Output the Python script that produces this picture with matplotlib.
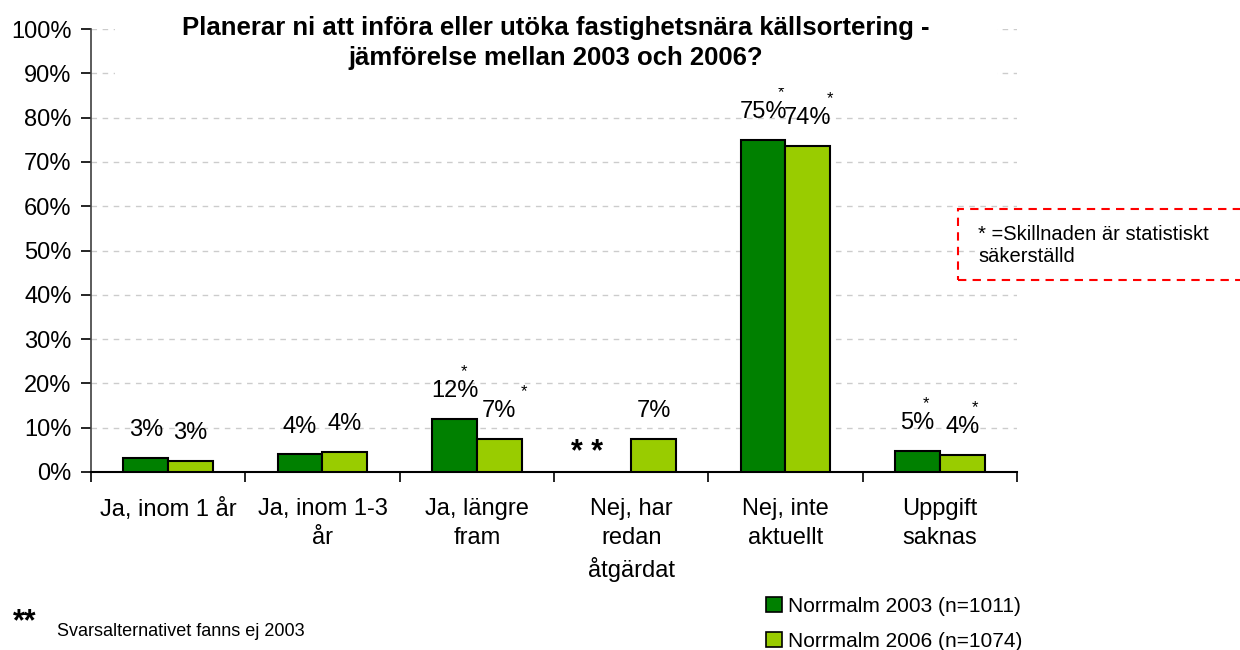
import numpy as np
import matplotlib
matplotlib.use('Agg')
import matplotlib.pyplot as plt
from matplotlib.patches import Patch, Rectangle

plt.rcParams['font.family'] = ['Liberation Sans', 'DejaVu Sans']

# Data
categories = ["Ja, inom 1 år", "Ja, inom 1-3\når", "Ja, längre\nfram",
              "Nej, har\nredan\nåtgärdat", "Nej, inte\naktuellt", "Uppgift\nsaknas"]
values_2003 = [3.2, 4.0, 12.0, np.nan, 75.0, 4.7]
values_2006 = [2.5, 4.5, 7.4, 7.4, 73.6, 3.9]
labels_2003 = ["3%", "4%", "12%", "", "75%", "5%"]
labels_2006 = ["3%", "4%", "7%", "7%", "74%", "4%"]
signif_2003 = [False, False, True, False, True, True]
signif_2006 = [False, False, True, False, True, True]
series_names = ["Norrmalm 2003 (n=1011)", "Norrmalm 2006 (n=1074)"]
yticks = [0, 10, 20, 30, 40, 50, 60, 70, 80, 90, 100]

dark = "#008000"
light = "#99cc00"

# star offsets (points) right of each label centre
star_dx_2003 = [0, 0, 7, 0, 13, 6]
star_dx_2006 = [0, 0, 18, 0, 16, 9]

fig = plt.figure(figsize=(12.4, 6.5), dpi=100)
ax = fig.add_axes([91 / 1240, 1 - 472 / 650, (1017 - 91) / 1240, (472 - 29) / 650])

x = np.arange(len(categories))
w = 0.29
b1 = ax.bar(x - w / 2, values_2003, w, color=dark, edgecolor="black", linewidth=1.5, zorder=3)
b2 = ax.bar(x + w / 2, values_2006, w, color=light, edgecolor="black", linewidth=1.5, zorder=3)

ax.set_xlim(-0.5, len(categories) - 0.5)
ax.set_ylim(0, 100)
ax.set_yticks(yticks)
ax.set_yticklabels([f"{t}%" for t in yticks], fontsize=17)
ax.set_xticks(x)
ax.set_xticklabels(categories, fontsize=17, linespacing=1.4, va="top")
ax.set_xticks(np.arange(-0.5, len(categories)), minor=True)
ax.tick_params(axis="x", which="major", length=0, pad=19)
ax.tick_params(axis="x", which="minor", length=7, width=1.2, direction="out")
ax.tick_params(axis="y", length=7, width=1.2, direction="out", pad=7)

for s in ("top", "right"):
    ax.spines[s].set_visible(False)
ax.spines["left"].set_linewidth(1.2)
ax.spines["left"].set_color("#404040")
ax.spines["bottom"].set_linewidth(1.5)

ax.yaxis.grid(True, color="#cccccc", linestyle=(0, (4, 4)), linewidth=1, zorder=0)
ax.set_axisbelow(True)

# value labels and significance stars
for bars, labs, sig, sdx in ((b1, labels_2003, signif_2003, star_dx_2003),
                             (b2, labels_2006, signif_2006, star_dx_2006)):
    for rect, lab, s, dx in zip(bars, labs, sig, sdx):
        if not lab:
            continue
        cx = rect.get_x() + rect.get_width() / 2
        top = rect.get_height()
        ax.annotate(lab, (cx, top), xytext=(0, 20), textcoords="offset points",
                    ha="center", va="center", fontsize=17)
        if s:
            ax.annotate("*", (cx, top), xytext=(dx, 34), textcoords="offset points",
                        ha="center", va="center", fontsize=12)

# missing 2003 value marker
ax.annotate("* *", (x[3] - w / 2, 0), xytext=(-16, 14), textcoords="offset points",
            ha="center", va="center", fontsize=22, fontweight="bold")

# white panel behind the title hides the top gridlines
fig.patches.append(Rectangle((115 / 1240, 1 - 88 / 650), (997 - 115) / 1240, 88 / 650,
                             transform=fig.transFigure, facecolor="white",
                             edgecolor="none", zorder=1))
fig.text(556 / 1240, 1 - 43 / 650,
         "Planerar ni att införa eller utöka fastighetsnära källsortering -\n"
         "jämförelse mellan 2003 och 2006?",
         ha="center", va="center", fontsize=18.5, fontweight="bold", linespacing=1.3)

# significance box
fig.patches.append(Rectangle((958 / 1240, 1 - 280 / 650), 300 / 1240, 71 / 650,
                             transform=fig.transFigure, fill=False, edgecolor="red",
                             linestyle=(0, (4, 3)), linewidth=1.5, zorder=2))
fig.text(978 / 1240, 1 - 245 / 650, "* =Skillnaden är statistiskt\nsäkerställd",
         ha="left", va="center", fontsize=14.5, linespacing=1.2)

# footnote
fig.text(13 / 1240, 1 - 622 / 650, "**", ha="left", va="center", fontsize=22, fontweight="bold")
fig.text(57 / 1240, 1 - 632 / 650, "Svarsalternativet fanns ej 2003",
         ha="left", va="center", fontsize=13)

# legend
handles = [Patch(facecolor=dark, edgecolor="black", linewidth=1.2),
           Patch(facecolor=light, edgecolor="black", linewidth=1.2)]
fig.legend(handles, series_names, loc="upper left", bbox_to_anchor=(766 / 1240, 1 - 597 / 650),
           frameon=False, fontsize=15, handlelength=0.75, handleheight=0.75,
           handletextpad=0.3, labelspacing=0.75, borderaxespad=0, borderpad=0)

fig.savefig("out.png", dpi=100)
